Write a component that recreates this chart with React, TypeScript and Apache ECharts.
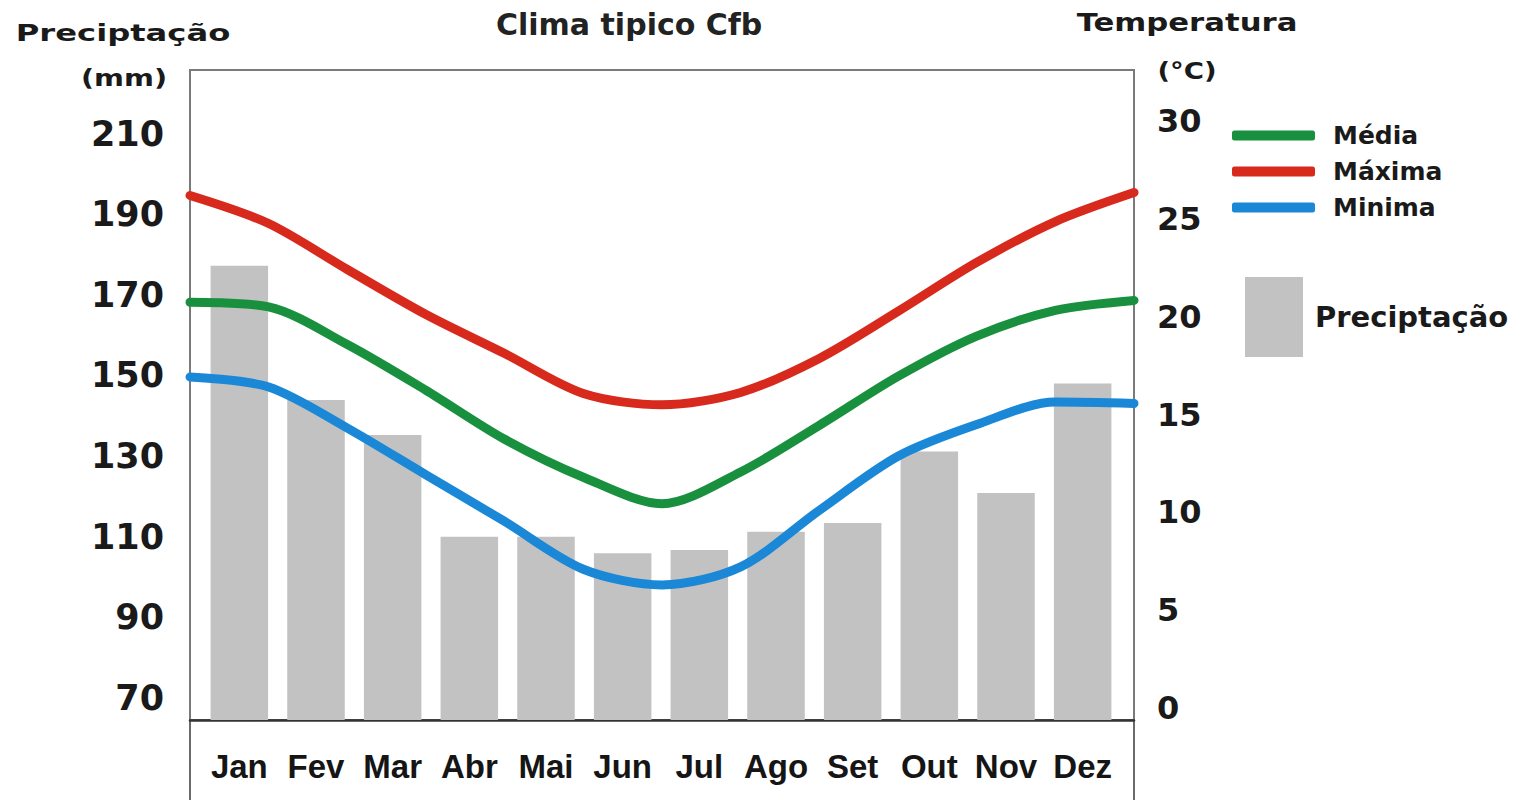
import React, { useEffect, useRef } from "react";
import * as echarts from "echarts";

const MONTHS = ["Jan", "Fev", "Mar", "Abr", "Mai", "Jun", "Jul", "Ago", "Set", "Out", "Nov", "Dez"];
const PRECIP = [177.2, 143.9, 135.2, 110.0, 110.0, 105.9, 106.7, 111.2, 113.4, 131.1, 120.8, 148.0];
const LINE_X = [0, 1, 2, 3, 4, 5, 6, 7, 8, 9, 10, 11, 12];
const T_MEDIA = [20.74, 20.5, 18.58, 16.24, 13.74, 11.8, 10.45, 12.07, 14.45, 16.95, 19.01, 20.32, 20.83];
const T_MAX = [26.19, 24.76, 22.41, 20.11, 18.12, 16.08, 15.5, 16.13, 17.87, 20.27, 22.77, 24.86, 26.34];
const T_MIN = [16.92, 16.41, 14.31, 11.92, 9.54, 7.1, 6.3, 7.22, 10.11, 12.87, 14.49, 15.64, 15.57];
const MM_TICKS = [70, 90, 110, 130, 150, 170, 190, 210];
const TEMP_TICKS = [0, 5, 10, 15, 20, 25, 30];

const FONT = "DejaVu Sans";
const BAR_COLOR = "#c2c2c2";
const C_MEDIA = "#18903e";
const C_MAX = "#d8291d";
const C_MIN = "#1a88d6";

export default function App() {
  const ref = useRef<HTMLDivElement>(null);
  useEffect(() => {
    if (!ref.current) return;
    const chart = echarts.init(ref.current, null, { renderer: "svg" });
    const pairs = (arr: number[]) => LINE_X.map((x, i) => [x, arr[i]]);
    const lineSeries = (name: string, arr: number[], color: string) => ({
      name,
      type: "line",
      xAxisIndex: 1,
      yAxisIndex: 1,
      data: pairs(arr),
      smooth: 0.3,
      showSymbol: false,
      symbol: "none",
      z: 5,
      color,
      lineStyle: { color, width: 9, cap: "round", join: "round" },
    });
    chart.setOption({
      animation: false,
      backgroundColor: "#ffffff",
      title: {
        text: "Clima tipico Cfb",
        left: 496,
        top: 9,
        padding: 0,
        textStyle: { fontFamily: FONT, fontSize: 30, fontWeight: "bold", color: "#222" },
      },
      grid: [
        { left: 190, top: 70, width: 944, height: 650, show: true, borderColor: "#7a7a7a", borderWidth: 2, backgroundColor: "transparent" },
        { left: 201, top: 70, width: 920, height: 650 },
      ],
      legend: [
        {
          data: ["Média", "Máxima", "Minima"],
          orient: "vertical",
          left: 1232,
          top: 123,
          padding: 0,
          itemWidth: 83,
          itemHeight: 10,
          itemGap: 11,
          icon: "roundRect",
          selectedMode: false,
          textStyle: { fontFamily: FONT, fontSize: 25, fontWeight: "bold", color: "#1a1a1a", padding: [0, 0, 0, 13], lineHeight: 24 },
        },
        {
          data: ["Preciptação"],
          orient: "vertical",
          left: 1245,
          top: 277,
          padding: 0,
          itemWidth: 58,
          itemHeight: 80,
          icon: "rect",
          selectedMode: false,
          textStyle: { fontFamily: FONT, fontSize: 29, fontWeight: "bold", color: "#1a1a1a", padding: [0, 0, 0, 7] },
        },
      ],
      xAxis: [
        {
          type: "category",
          gridIndex: 1,
          data: MONTHS,
          axisLine: { show: false },
          axisTick: { show: false },
          splitLine: { show: false },
          axisLabel: { interval: 0, margin: 30, fontFamily: "Liberation Sans", fontSize: 33, fontWeight: "bold", color: "#151515" },
        },
        {
          type: "value",
          gridIndex: 0,
          min: 0,
          max: 12,
          axisLine: { show: true, onZero: false, lineStyle: { color: "#333", width: 2.5 } },
          axisTick: { show: false },
          axisLabel: { show: false },
          splitLine: { show: false },
        },
      ],
      yAxis: [
        {
          type: "value",
          gridIndex: 0,
          position: "left",
          min: 64.5,
          max: 225.8,
          axisLine: { show: false },
          axisTick: { show: false },
          splitLine: { show: false },
          axisLabel: {
            customValues: MM_TICKS,
            margin: 26,
            fontFamily: FONT,
            fontSize: 35,
            fontWeight: "bold",
            color: "#1a1a1a",
          },
        },
        {
          type: "value",
          gridIndex: 0,
          position: "right",
          min: -0.6,
          max: 32.6,
          axisLine: { show: false },
          axisTick: { show: false },
          splitLine: { show: false },
          axisLabel: {
            customValues: TEMP_TICKS,
            margin: 23,
            fontFamily: FONT,
            fontSize: 32,
            fontWeight: "bold",
            color: "#1a1a1a",
          },
        },
        {
          type: "value",
          gridIndex: 1,
          min: 64.5,
          max: 225.8,
          show: false,
        },
      ],
      graphic: [
        {
          type: "rect",
          shape: { x: 190, y: 720, width: 944, height: 120 },
          style: { fill: "none", stroke: "#6a6a6a", lineWidth: 2 },
          silent: true,
        },
        {
          type: "text",
          x: 123,
          y: 33,
          scaleX: 1.4,
          style: { text: "Preciptação", font: `bold 23px "${FONT}"`, fill: "#1a1a1a", textAlign: "center", textVerticalAlign: "middle" },
        },
        {
          type: "text",
          x: 124,
          y: 78,
          scaleX: 1.25,
          style: { text: "(mm)", font: `bold 23px "${FONT}"`, fill: "#1a1a1a", textAlign: "center", textVerticalAlign: "middle" },
        },
        {
          type: "text",
          x: 1187,
          y: 22,
          scaleX: 1.28,
          style: { text: "Temperatura", font: `bold 24px "${FONT}"`, fill: "#1a1a1a", textAlign: "center", textVerticalAlign: "middle" },
        },
        {
          type: "text",
          x: 1187,
          y: 71,
          scaleX: 1.2,
          style: { text: "(°C)", font: `bold 23px "${FONT}"`, fill: "#1a1a1a", textAlign: "center", textVerticalAlign: "middle" },
        },
      ],
      series: [
        {
          name: "Preciptação",
          type: "bar",
          xAxisIndex: 0,
          yAxisIndex: 2,
          data: PRECIP,
          barCategoryGap: "25%",
          color: BAR_COLOR,
          itemStyle: { color: BAR_COLOR },
          z: 2,
        },
        lineSeries("Média", T_MEDIA, C_MEDIA),
        lineSeries("Máxima", T_MAX, C_MAX),
        lineSeries("Minima", T_MIN, C_MIN),
      ],
    });
    return () => chart.dispose();
  }, []);
  return <div ref={ref} style={{ position: "fixed", left: 0, top: 0, width: 1537, height: 800, background: "#fff" }} />;
}
